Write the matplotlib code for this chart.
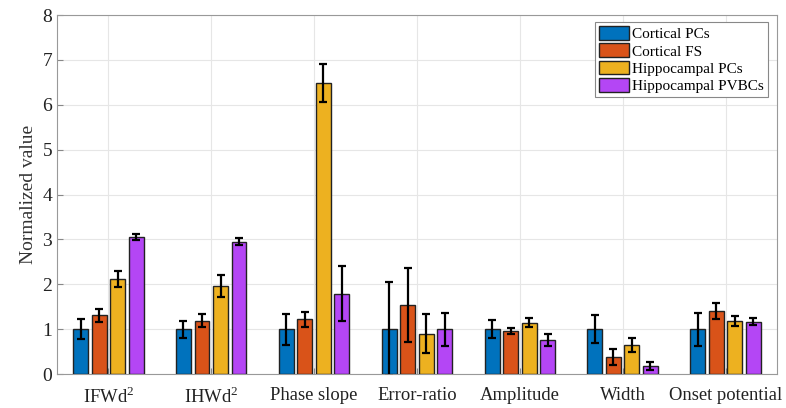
import matplotlib.pyplot as plt
import numpy as np

plt.rcParams['font.family'] = 'Liberation Serif'
plt.rcParams['mathtext.fontset'] = 'custom'
plt.rcParams['mathtext.rm'] = 'Liberation Serif'

categories = [r'IFWd$^{\mathrm{2}}$', r'IHWd$^{\mathrm{2}}$', 'Phase slope', 'Error-ratio',
              'Amplitude', 'Width', 'Onset potential']
series_names = ['Cortical PCs', 'Cortical FS', 'Hippocampal PCs', 'Hippocampal PVBCs']

cortical_pcs = [1.0, 1.0, 1.0, 1.0, 1.0, 1.0, 1.0]
cortical_pcs_err = [0.22, 0.19, 0.34, 1.05, 0.20, 0.31, 0.37]
cortical_fs = [1.31, 1.19, 1.22, 1.54, 0.965, 0.38, 1.40]
cortical_fs_err = [0.14, 0.15, 0.16, 0.82, 0.065, 0.17, 0.18]
hippo_pcs = [2.12, 1.96, 6.48, 0.90, 1.14, 0.65, 1.19]
hippo_pcs_err = [0.17, 0.24, 0.42, 0.43, 0.10, 0.16, 0.11]
hippo_pvbcs = [3.06, 2.95, 1.79, 1.0, 0.76, 0.19, 1.17]
hippo_pvbcs_err = [0.07, 0.08, 0.61, 0.37, 0.14, 0.09, 0.08]

values = [cortical_pcs, cortical_fs, hippo_pcs, hippo_pvbcs]
errors = [cortical_pcs_err, cortical_fs_err, hippo_pcs_err, hippo_pvbcs_err]
colors = ['#0072BD', '#D95319', '#EDB120', '#B446F5']

fig = plt.figure(figsize=(7.86, 4.08), dpi=100)
ax = fig.add_axes([0.0725, 0.083, 0.916, 0.880])

x = np.arange(1, len(categories) + 1)
step = 0.18
width = 0.145
for i in range(4):
    pos = x + (i - 1.5) * step
    ax.bar(pos, values[i], width, color=colors[i], edgecolor='#222222',
           linewidth=1.0, label=series_names[i], zorder=3)
    ax.errorbar(pos, values[i], yerr=errors[i], fmt='none', ecolor='black',
                elinewidth=1.6, capsize=3, capthick=1.6, zorder=4)

ax.set_xlim(0.5, 7.5)
ax.set_ylim(0, 8)
ax.set_xticks(x)
ax.set_xticklabels(categories)
ax.set_yticks(range(0, 9))
ax.set_ylabel('Normalized value', fontsize=14, color='#333333')
ax.tick_params(axis='both', direction='in', length=4, labelsize=14,
               colors='#888888', labelcolor='#222222')
ax.tick_params(axis='x', pad=9, labelsize=13.4)
ax.grid(True, color='#e6e6e6', linewidth=0.8, zorder=0)
ax.set_axisbelow(True)
for s in ax.spines.values():
    s.set_color('#999999')
    s.set_linewidth(0.8)

leg = ax.legend(loc='upper right', fontsize=11, handlelength=2.0, handleheight=1.0,
                borderpad=0.25, labelspacing=0.15, handletextpad=0.2,
                borderaxespad=0, fancybox=False, framealpha=1,
                bbox_to_anchor=(0.9875, 0.98))
leg.get_frame().set_edgecolor('#888888')
leg.get_frame().set_linewidth(0.8)

fig.savefig('out.png', dpi=100)
